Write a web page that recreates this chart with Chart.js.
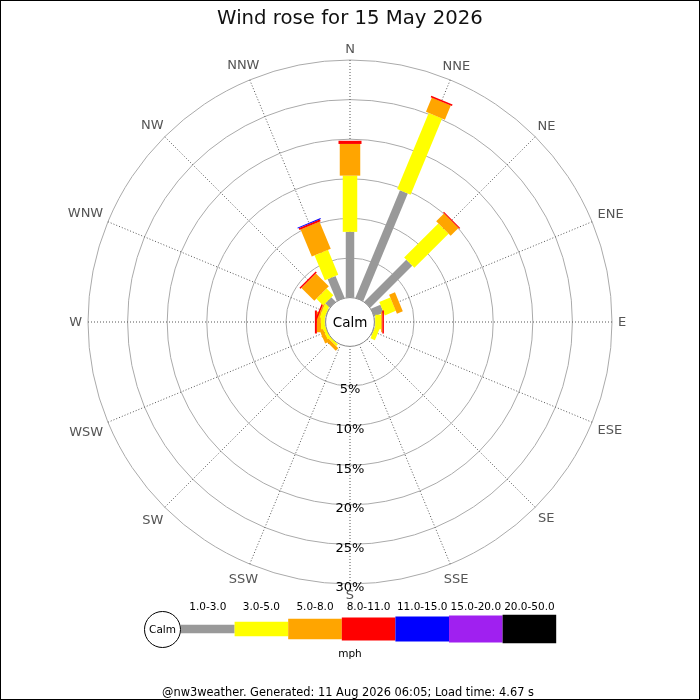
<!DOCTYPE html>
<html>
<head>
<meta charset="UTF-8">
<title>Wind rose</title>
<script src="https://cdn.jsdelivr.net/npm/chart.js@4.4.1/dist/chart.umd.min.js"></script>
<style>
body { margin: 0; background: #fff; }
canvas { display: block; }
</style>
</head>
<body>

<canvas id="roseChart" width="700" height="700"></canvas>
<script>
var directions = ['N','NNE','NE','ENE','E','ESE','SE','SSE','S','SSW','SW','WSW','W','WNW','NW','NNW'];
var speedBins = ['1.0-3.0','3.0-5.0','5.0-8.0','8.0-11.0','11.0-15.0','15.0-20.0','20.0-50.0'];
var binColors = ['#999999','#ffff00','#ffa500','#ff0000','#0000ff','#a020f0','#000000'];
var binWidths = [8.5, 14.5, 20.5, 23, 25, 27, 28.5];

// % of the day from each direction, one array per speed bin (N .. NNW)
var spd1 = [8.3, 14.7, 7.5, 1.3, 0.1, 0.1, 0, 0, 0, 0, 0, 0, 0.1, 0.1, 0.8, 3.0];
var spd2 = [7.1, 10.4, 6.1, 1.5, 0.75, 0.6, 0, 0, 0, 0, 0.3, 0.4, 0.5, 0.6, 1.2, 3.4];
var spd3 = [4.0, 1.95, 1.4, 0.8, 0.15, 0, 0, 0, 0, 0, 0.45, 0.45, 0.5, 0.2, 2.3, 3.7];
var spd4 = [0.4, 0.2, 0.15, 0, 0.2, 0, 0, 0, 0, 0, 0, 0, 0.25, 0.2, 0.2, 0.25];
var spd5 = [0, 0, 0, 0, 0, 0, 0, 0, 0, 0, 0, 0, 0, 0, 0, 0.12];
var spd6 = [0, 0, 0, 0, 0, 0, 0, 0, 0, 0, 0, 0, 0, 0, 0, 0];
var spd7 = [0, 0, 0, 0, 0, 0, 0, 0, 0, 0, 0, 0, 0, 0, 0, 0];
var pctTicks = [5, 10, 15, 20, 25, 30];

var FONT = '"DejaVu Sans", sans-serif';
var series = [spd1, spd2, spd3, spd4, spd5, spd6, spd7];

// stacked bars drawn along each spoke of the radial scale
var roseBars = {
    id: 'roseBars',
    afterDatasetsDraw: function(chart) {
        var r = chart.scales.r, ctx = chart.ctx;
        ctx.save();
        ctx.lineCap = 'butt';
        chart.data.labels.forEach(function(lab, i) {
            var cum = 0;
            chart.data.datasets.forEach(function(ds, k) {
                var v = ds.data[i];
                if (!v) return;
                var a = r.getPointPosition(i, r.getDistanceFromCenterForValue(cum));
                var b = r.getPointPosition(i, r.getDistanceFromCenterForValue(cum + v));
                ctx.strokeStyle = ds.backgroundColor;
                ctx.lineWidth = binWidths[k];
                ctx.beginPath();
                ctx.moveTo(a.x, a.y);
                ctx.lineTo(b.x, b.y);
                ctx.stroke();
                cum += v;
            });
        });
        // calm circle
        var rc = r.getDistanceFromCenterForValue(0);
        ctx.beginPath();
        ctx.arc(r.xCenter, r.yCenter, rc, 0, Math.PI * 2);
        ctx.fillStyle = '#fff';
        ctx.fill();
        ctx.strokeStyle = '#888';
        ctx.lineWidth = 1;
        ctx.stroke();
        ctx.fillStyle = '#000';
        ctx.textAlign = 'center';
        ctx.textBaseline = 'middle';
        ctx.font = '13.5px ' + FONT;
        ctx.fillText('Calm', r.xCenter, r.yCenter + 1);
        // percent labels down the S spoke
        ctx.font = '13px ' + FONT;
        r.ticks.forEach(function(t) {
            var d = r.getDistanceFromCenterForValue(t.value);
            ctx.fillText(t.value + '%', r.xCenter, r.yCenter + d + 4);
        });
        // compass labels just outside the outer ring
        ctx.fillStyle = '#555';
        var outer = r.getDistanceFromCenterForValue(r.max);
        chart.data.labels.forEach(function(lab, i) {
            var ang = r.getIndexAngle(i);
            var w = ctx.measureText(lab).width;
            var d = outer + 6 + 0.5 * (w * Math.abs(Math.sin(ang)) + 10 * Math.abs(Math.cos(ang)));
            var p = r.getPointPosition(i, d);
            ctx.fillText(lab, p.x, p.y + 1);
        });
        ctx.restore();
    },
    afterDraw: function(chart) {
        var ctx = chart.ctx;
        ctx.save();
        var x0 = 181, yMid = 629, seg = 53.6;
        ctx.beginPath();
        ctx.arc(162.5, 629.5, 18, 0, Math.PI * 2);
        ctx.fillStyle = '#fff';
        ctx.fill();
        ctx.strokeStyle = '#000';
        ctx.lineWidth = 1;
        ctx.stroke();
        ctx.textAlign = 'center';
        ctx.textBaseline = 'middle';
        ctx.fillStyle = '#000';
        ctx.font = '10.5px ' + FONT;
        ctx.fillText('Calm', 162.5, 630);
        speedBins.forEach(function(lab, k) {
            ctx.fillStyle = binColors[k];
            ctx.fillRect(x0 + k * seg, yMid - binWidths[k] / 2, seg, binWidths[k]);
            ctx.fillStyle = '#000';
            ctx.fillText(lab, x0 + k * seg + seg / 2, 607);
        });
        ctx.fillText('mph', 350, 654);
        ctx.font = '11.4px ' + FONT;
        ctx.fillText('@nw3weather. Generated: 11 Aug 2026 06:05; Load time: 4.67 s', 348, 693);
        // frame
        ctx.strokeStyle = '#000';
        ctx.strokeRect(0.5, 0.5, 699, 699);
        ctx.restore();
    }
};

var ctx = document.getElementById('roseChart').getContext('2d');
var roseChart = new Chart(ctx, {
    type: 'radar',
    data: {
        labels: directions,
        datasets: series.map(function(arr, k) {
            return {
                label: speedBins[k],
                data: arr,
                backgroundColor: binColors[k],
                borderWidth: 0,
                pointRadius: 0,
                pointHoverRadius: 0,
                showLine: false,
                fill: false
            };
        })
    },
    options: {
        responsive: false,
        animation: false,
        devicePixelRatio: 1,
        layout: { padding: { left: 88, right: 88, top: 0, bottom: 116 } },
        plugins: {
            legend: { display: false },
            tooltip: { enabled: false },
            title: {
                display: true,
                text: 'Wind rose for 15 May 2026',
                color: '#111',
                font: { family: FONT, size: 19.7, weight: 'normal' },
                padding: { top: 7, bottom: 29.36 }
            }
        },
        scales: {
            r: {
                min: -3.081,
                max: 30,
                afterBuildTicks: function(scale) {
                    scale.ticks = pctTicks.map(function(v) { return { value: v }; });
                },
                ticks: { display: false },
                grid: { circular: true, color: '#aaaaaa', lineWidth: 1 },
                angleLines: { color: '#555', lineWidth: 1, borderDash: [1, 2] },
                pointLabels: { display: false }
            }
        }
    },
    plugins: [roseBars]
});
</script>

</body>
</html>
